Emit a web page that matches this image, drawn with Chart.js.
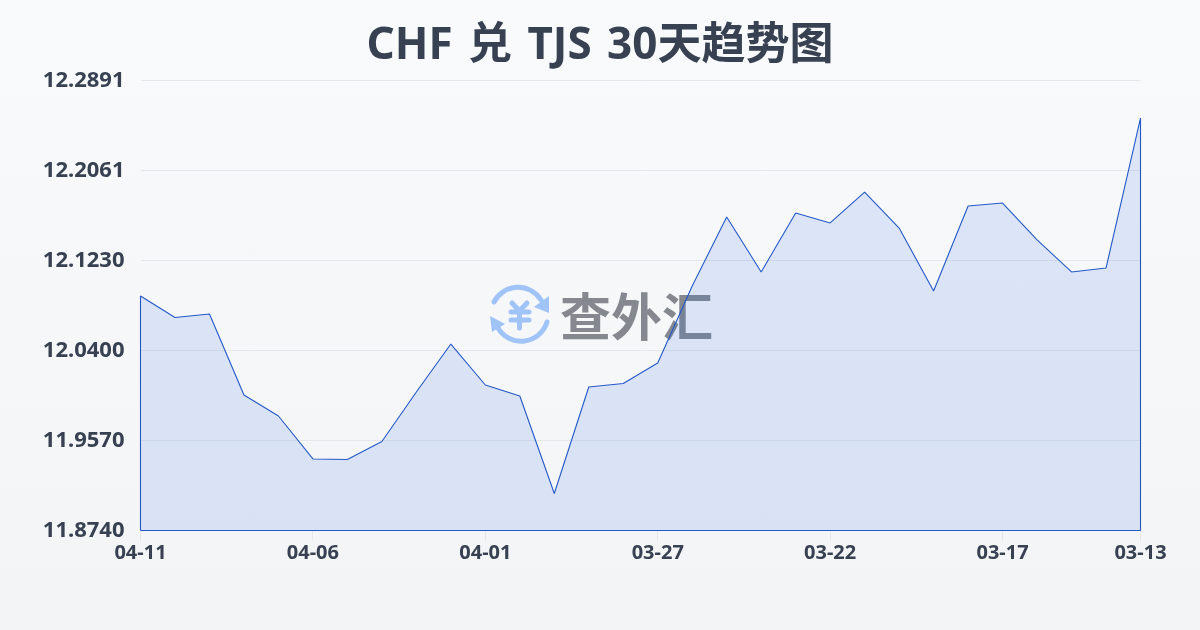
<!DOCTYPE html>
<html>
<head>
<meta charset="utf-8">
<title>CHF 兑 TJS 30天趋势图</title>
<script src="https://cdn.jsdelivr.net/npm/chart.js@4/dist/chart.umd.min.js"></script>
<style>
  html, body { margin: 0; padding: 0; }
  body {
    width: 1200px; height: 630px; position: relative; overflow: hidden;
    background: linear-gradient(180deg, #f8fafc 0%, #f3f4f6 100%);
  }
  #wrap { position: absolute; left: 0; top: 0; width: 1200px; height: 630px; }
  #logo { position: absolute; left: 485px; top: 280px; }
  #brand {
    position: absolute; left: 560px; top: 277px; width: 156px;
    font: 700 51px "Noto Sans CJK SC", sans-serif; line-height: 74px;
    color: #85898f; white-space: nowrap;
  }
</style>
</head>
<body>
<svg id="logo" width="70" height="70" viewBox="0 0 70 70" fill="none" stroke="#a0c3f8" stroke-width="5" stroke-linecap="round">
  <path d="M9 22 A27 27 0 0 1 56 20"/>
  <path d="M62 42 A27 27 0 0 1 13 48"/>
  <path d="M64 16 L64 33 L49 27 Z" fill="#a0c3f8" stroke="none"/>
  <path d="M5 36 L7 52 L20 44 Z" fill="#a0c3f8" stroke="none"/>
  <path d="M27 23 L34.5 31 L42 23 M26 32 H44 M26 40 H44 M34.5 31 V48"/>
</svg>
<div id="brand">查外汇</div>
<div id="wrap"><canvas id="chart" width="1200" height="630"></canvas></div>
<script>
const categories = ['04-11','04-10','04-09','04-08','04-07','04-06','04-05','04-04','04-03','04-02',
  '04-01','03-31','03-30','03-29','03-28','03-27','03-26','03-25','03-24','03-23',
  '03-22','03-21','03-20','03-19','03-18','03-17','03-16','03-15','03-14','03-13'];
const rates = [12.0903,12.0705,12.0737,11.9990,11.9796,11.9400,11.9395,11.9561,12.0018,12.0460,
  12.0082,11.9981,11.9081,12.0064,12.0096,12.0285,12.0995,12.1632,12.1125,12.1669,
  12.1577,12.1862,12.1530,12.0949,12.1733,12.1761,12.1420,12.1125,12.1161,12.2545];
const yTicks = [11.8740,11.9570,12.0400,12.1230,12.2061,12.2891];
const xTickIndexes = [0,5,10,15,20,25,29];

const textColor = '#374151';
const gridColor = '#e5e7eb';
const fontFamily = '"Noto Sans", "Noto Sans CJK SC", sans-serif';

const areaPoints = rates.map(function(v, i) { return {x: i, y: v}; });

// closed outline: down to the axis at both ends, like the original area
const outlinePoints = areaPoints.slice();
outlinePoints.unshift({x: 0, y: yTicks[0]});
outlinePoints.push({x: rates.length - 1, y: yTicks[0]});
outlinePoints.push({x: 0, y: yTicks[0]});

Chart.defaults.animation = false;

// the title has wider gaps between its words than the font gives
const wordSpacingPlugin = {
  id: 'wordSpacing',
  beforeDraw: function(chart) {
    chart.ctx.wordSpacing = '4px';
  }
};

new Chart(document.getElementById('chart'), {
  type: 'line',
  plugins: [wordSpacingPlugin],
  data: {
    datasets: [
      {
        data: areaPoints,
        borderWidth: 0,
        backgroundColor: 'rgba(37, 99, 235, 0.13)',
        fill: {value: yTicks[0]},
        pointRadius: 0,
        tension: 0
      },
      {
        data: outlinePoints,
        borderColor: '#2458c4',
        borderWidth: 1.1,
        borderJoinStyle: 'bevel',
        fill: false,
        pointRadius: 0,
        tension: 0,
        clip: false
      }
    ]
  },
  options: {
    responsive: false,
    layout: {padding: 0},
    plugins: {
      legend: {display: false},
      tooltip: {enabled: false},
      title: {
        display: true,
        text: 'CHF 兑 TJS 30天趋势图',
        color: textColor,
        font: {family: fontFamily, size: 44, weight: 'bold'},
        padding: {top: 20, bottom: 7.7}
      }
    },
    scales: {
      x: {
        type: 'linear',
        min: 0,
        max: rates.length - 1,
        afterBuildTicks: function(scale) {
          scale.ticks = xTickIndexes.map(function(i) { return {value: i}; });
        },
        afterFit: function(scale) { scale.height = 99.5; },
        ticks: {
          autoSkip: false,
          maxRotation: 0,
          padding: 1,
          color: textColor,
          font: {family: fontFamily, size: 20, weight: 'bold'},
          callback: function(v) { return categories[v]; }
        },
        grid: {drawOnChartArea: false, color: gridColor, tickLength: 10},
        border: {display: false}
      },
      y: {
        min: yTicks[0],
        max: yTicks[yTicks.length - 1],
        afterBuildTicks: function(scale) {
          scale.ticks = yTicks.map(function(v) { return {value: v}; });
        },
        afterFit: function(scale) { scale.width = 140.5; },
        ticks: {
          padding: 16,
          color: textColor,
          font: {family: fontFamily, size: 22, weight: 'bold'},
          callback: function(v) { return v.toFixed(4); }
        },
        grid: {color: gridColor, drawTicks: false},
        border: {display: false}
      },
      // empty axis, only keeps the right margin so the title stays centred on the page
      yRight: {
        position: 'right',
        afterFit: function(scale) { scale.width = 59.5; },
        ticks: {display: false},
        grid: {display: false},
        border: {display: false}
      }
    }
  }
});
</script>
</body>
</html>
